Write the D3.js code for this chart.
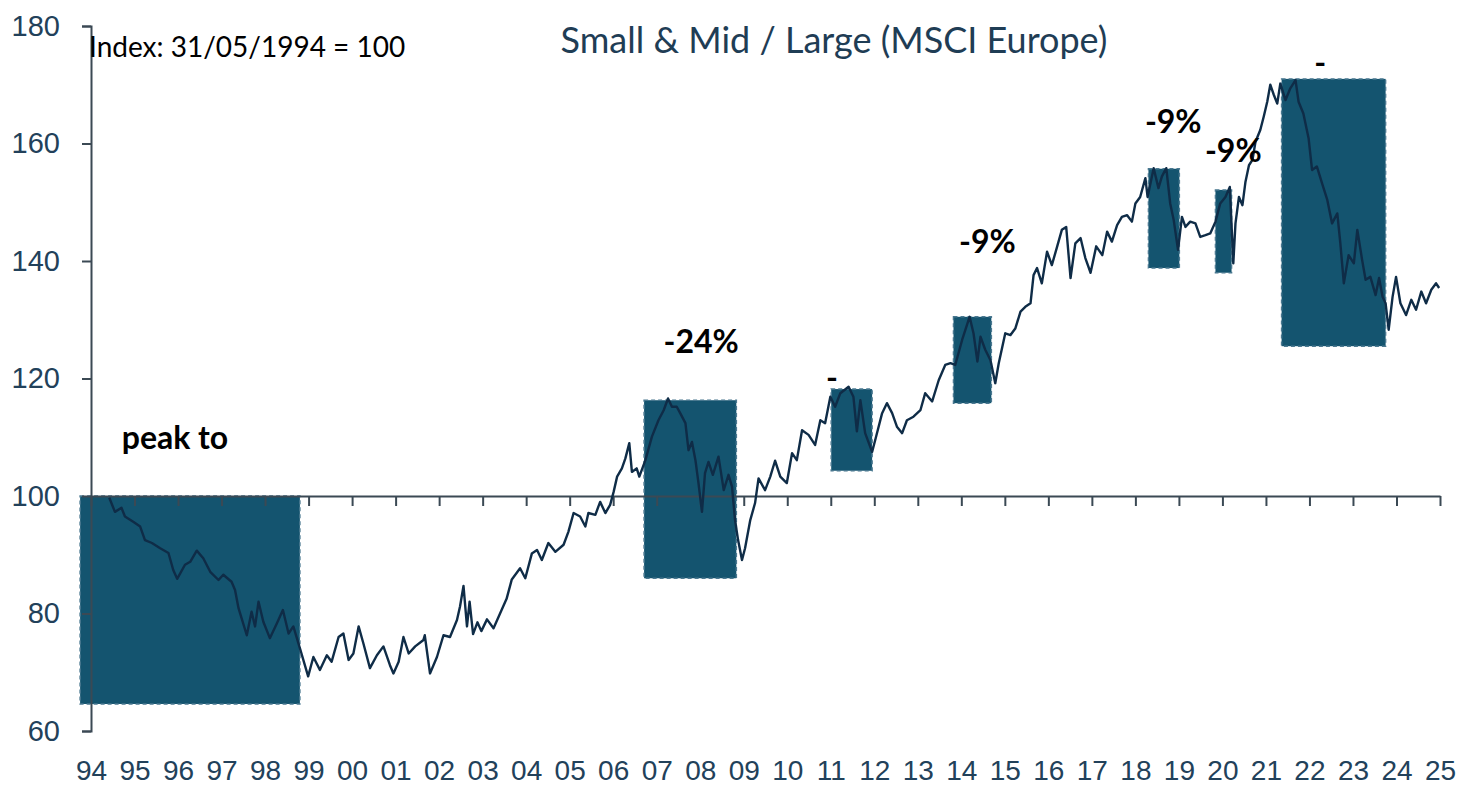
<!DOCTYPE html>
<html>
<head>
<meta charset="utf-8">
<script src="https://cdn.jsdelivr.net/npm/d3@7"></script>
<style>
  body { margin: 0; background: #fff; }
  svg { display: block; font-family: Lato, "Noto Sans", sans-serif; }
</style>
</head>
<body>
<svg width="1459" height="787"></svg>
<script>
// relative index, decimal year -> level (31/05/1994 = 100)
var years = [1994.42,1994.55,1994.70,1994.78,1994.97,1995.13,1995.24,1995.40,1995.59,1995.78,1995.89,1995.98,
  1996.16,1996.28,1996.43,1996.58,1996.74,1996.93,1997.04,1997.23,1997.31,1997.39,1997.58,1997.69,1997.77,1997.85,1997.96,
  1998.11,1998.27,1998.41,1998.54,1998.65,1998.80,1998.99,1999.11,1999.26,1999.42,1999.53,1999.69,1999.80,1999.92,
  2000.03,2000.15,2000.26,2000.41,2000.57,2000.72,2000.87,2000.95,2001.07,2001.18,2001.30,2001.45,2001.64,2001.67,2001.79,2001.95,
  2002.10,2002.25,2002.41,2002.48,2002.56,2002.64,2002.70,2002.78,2002.88,2002.97,2003.10,2003.25,2003.40,2003.55,2003.67,2003.86,2003.98,
  2004.13,2004.25,2004.36,2004.51,2004.67,2004.86,2004.97,2005.09,2005.24,2005.36,2005.43,2005.59,2005.70,2005.82,2005.93,
  2006.01,2006.09,2006.20,2006.28,2006.37,2006.43,2006.54,2006.60,2006.74,2006.89,2007.04,2007.16,2007.26,2007.35,2007.46,2007.54,
  2007.66,2007.73,2007.81,2007.89,2007.96,2008.04,2008.11,2008.19,2008.29,2008.42,2008.54,2008.65,2008.73,2008.80,2008.87,2008.96,
  2009.03,2009.15,2009.26,2009.34,2009.49,2009.61,2009.72,2009.84,2009.99,2010.11,2010.22,2010.34,2010.49,2010.64,2010.76,2010.87,
  2010.99,2011.10,2011.22,2011.41,2011.52,2011.60,2011.68,2011.79,2011.95,2012.02,2012.18,2012.29,2012.41,2012.52,2012.64,2012.75,
  2012.90,2013.06,2013.17,2013.33,2013.48,2013.63,2013.75,2013.86,2014.02,2014.19,2014.28,2014.37,2014.44,2014.55,2014.67,2014.78,
  2014.86,2015.01,2015.13,2015.24,2015.36,2015.47,2015.59,2015.66,2015.74,2015.85,2015.97,2016.08,2016.20,2016.31,2016.41,2016.51,
  2016.62,2016.74,2016.85,2016.97,2017.10,2017.24,2017.35,2017.46,2017.58,2017.69,2017.81,2017.92,2018.00,2018.11,2018.23,2018.28,
  2018.42,2018.53,2018.61,2018.71,2018.80,2018.88,2018.98,2019.07,2019.15,2019.26,2019.38,2019.49,2019.61,2019.72,2019.84,2019.95,
  2020.07,2020.17,2020.25,2020.30,2020.38,2020.46,2020.53,2020.61,2020.69,2020.76,2020.87,2020.95,2021.03,2021.10,2021.18,2021.26,
  2021.33,2021.45,2021.56,2021.68,2021.75,2021.86,2021.98,2022.06,2022.17,2022.29,2022.41,2022.52,2022.64,2022.71,2022.79,2022.90,
  2023.02,2023.10,2023.21,2023.29,2023.40,2023.52,2023.60,2023.68,2023.75,2023.82,2023.91,2023.99,2024.09,2024.22,2024.34,2024.45,
  2024.57,2024.68,2024.80,2024.91,2024.98];
var levels = [99.7,97.3,98.0,96.5,95.6,94.8,92.5,92.0,91.1,90.3,87.4,85.9,
  88.3,88.8,90.7,89.4,87.1,85.7,86.6,85.4,84.0,80.9,76.3,80.3,77.8,82.0,78.6,
  75.8,78.3,80.6,76.6,77.8,74.1,69.3,72.6,70.4,72.9,71.8,76.0,76.6,72.1,
  73.2,77.8,74.9,70.7,72.9,74.4,71.2,69.8,71.8,76.0,73.2,74.4,75.5,76.3,69.8,72.6,
  76.3,76.0,78.9,81.2,84.7,77.8,82.0,76.5,78.5,77.0,79.0,77.5,80.0,82.5,85.8,87.7,86.0,
  90.2,90.8,89.1,92.0,90.5,91.7,93.9,97.1,96.5,94.8,97.1,96.8,99.0,97.1,98.5,
  100.7,103.3,104.7,106.4,109.0,104.1,104.7,103.3,106.1,110.1,112.9,114.6,116.6,115.2,115.2,114.1,
  112.4,107.8,109.2,106.1,102.2,97.3,103.9,105.8,103.6,106.7,101.0,103.6,101.6,95.9,92.5,89.1,
  91.1,95.9,98.8,103.0,101.0,103.3,106.0,103.3,102.2,107.3,106.1,111.2,110.4,108.7,112.9,112.4,
  116.9,115.2,117.5,118.6,116.9,111.0,116.3,110.7,107.5,109.5,114.1,115.8,114.1,111.8,110.7,112.9,
  113.5,114.6,117.5,116.1,119.7,122.3,122.6,122.3,126.6,130.5,127.7,122.9,127.1,124.9,123.1,119.2,
  122.6,127.7,127.4,128.5,131.4,132.2,132.8,137.6,138.8,136.2,141.6,139.3,142.4,145.3,145.8,137.1,
  143.0,143.9,140.5,138.0,142.5,141.0,145.0,143.3,146.1,147.5,147.8,146.7,149.8,150.9,154.1,150.9,
  155.8,152.4,154.4,155.8,149.8,147.0,141.9,147.5,145.8,146.7,146.4,144.1,144.4,144.7,146.7,149.8,
  150.9,152.6,139.6,146.4,150.9,149.5,153.5,156.3,157.2,160.3,162.3,164.6,167.1,170.0,168.3,166.8,
  170.2,167.4,169.4,170.8,167.1,165.1,160.9,155.5,156.1,153.2,150.4,146.4,148.1,143.0,136.2,141.0,
  139.6,145.3,140.2,136.8,137.3,134.2,137.1,133.9,132.8,128.3,133.9,137.3,132.8,130.8,133.4,131.7,
  134.8,132.8,135.1,136.2,135.4];

// drawdown boxes: start, end (decimal year), low, high (index)
var boxStart = [1993.75, 2006.71, 2011.01, 2013.82, 2018.30, 2019.84, 2021.36];
var boxEnd   = [1998.80, 2008.83, 2011.95, 2014.69, 2019.01, 2020.21, 2023.75];
var boxLow   = [64.6, 86.0, 104.3, 115.8, 138.8, 138.0, 125.5];
var boxHigh  = [100.0, 116.3, 118.2, 130.5, 155.7, 152.1, 171.0];

// drawdown labels (text is cut in the original)
var noteText = ["peak to", "-24%", "-", "-9%", "-9%", "-9%", "-"];
var noteYear = [1995.93, 2008.02, 2011.03, 2014.60, 2018.87, 2020.25, 2022.25];
var noteLevel = [108.0, 124.3, 118.2, 141.4, 161.8, 156.9, 171.8];

var yTicks = [60, 80, 100, 120, 140, 160, 180];
var yearTicks = d3.range(1994, 2026);

var title = "Small & Mid / Large (MSCI Europe)";
var subtitle = "Index: 31/05/1994 = 100";

var svg = d3.select("svg");
var axisColor = "#3b4954";
var labelColor = "#22415a";

var x = d3.scaleLinear().domain([1994, 2025]).range([91, 1440]);
var y = d3.scaleLinear().domain([60, 180]).range([731, 26]);

//BOXES
var boxes = svg.append("g");
boxes.selectAll("rect").data(boxStart)
  .enter()
  .append("rect")
  .attr("x", d => x(d))
  .attr("width", (d, i) => x(boxEnd[i]) - x(d))
  .attr("y", (d, i) => y(boxHigh[i]))
  .attr("height", (d, i) => y(boxLow[i]) - y(boxHigh[i]))
  .style("fill", "#14546f")
  .style("stroke", "#4a7890")
  .style("stroke-width", 1.5)
  .style("stroke-dasharray", "4,3");

//AXES
var yAxis = svg.append("g")
  .attr("transform", "translate(91,0)")
  .call(d3.axisLeft(y).tickValues(yTicks).tickSize(9).tickPadding(22));
yAxis.select(".domain").attr("stroke", axisColor).attr("stroke-width", 2);
yAxis.selectAll(".tick line").attr("stroke", axisColor).attr("stroke-width", 2);
yAxis.selectAll("text")
  .style("font-size", "29px")
  .style("fill", labelColor);

var xAxis = svg.append("g")
  .attr("transform", "translate(0," + y(100) + ")")
  .call(d3.axisBottom(x).tickValues(yearTicks).tickSize(10).tickSizeOuter(0)
    .tickFormat(d => d3.format("02d")(d % 100)));
xAxis.select(".domain").attr("stroke", axisColor).attr("stroke-width", 2);
xAxis.selectAll(".tick line").attr("stroke", axisColor).attr("stroke-width", 2);
// year labels sit at the bottom of the chart, not on the 100 line
xAxis.selectAll("text")
  .attr("y", 770 - y(100))
  .attr("dy", "0.35em")
  .style("font-size", "28px")
  .style("fill", labelColor);

//LINE
var line = d3.line()
  .x((d, i) => x(years[i]))
  .y(d => y(d));
svg.append("path")
  .datum(levels)
  .attr("d", line)
  .style("fill", "none")
  .style("stroke", "#0f2c47")
  .style("stroke-width", 2.4)
  .style("stroke-linejoin", "round");

//TEXT
svg.append("g").selectAll("text").data(noteText)
  .enter()
  .append("text")
  .text(d => d)
  .attr("x", (d, i) => x(noteYear[i]))
  .attr("y", (d, i) => y(noteLevel[i]))
  .attr("text-anchor", "middle")
  .style("font-size", "32px")
  .style("font-weight", "bold")
  .style("fill", "#000");

svg.append("text")
  .text(title)
  .attr("x", 834)
  .attr("y", 53)
  .attr("text-anchor", "middle")
  .style("font-size", "36px")
  .style("fill", "#1f3d55");

svg.append("text")
  .text(subtitle)
  .attr("x", 89)
  .attr("y", 57)
  .style("font-size", "28px")
  .style("fill", "#000");
</script>
</body>
</html>
